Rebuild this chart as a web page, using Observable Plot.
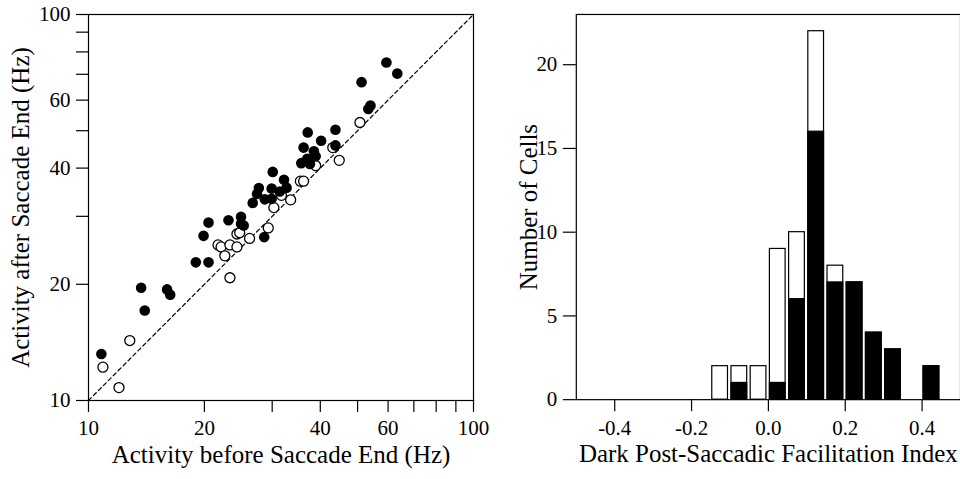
<!DOCTYPE html>
<html><head><meta charset="utf-8">
<script src="https://cdn.jsdelivr.net/npm/d3@7"></script>
<script src="https://cdn.jsdelivr.net/npm/@observablehq/plot@0.6"></script>
<style>
html,body{margin:0;padding:0;overflow:hidden;background:#fff;}
#wrap{position:relative;width:960px;height:479px;overflow:hidden;background:#fff;}
#left{position:absolute;left:0;top:0;z-index:2;}
#right{position:absolute;left:480px;top:0;z-index:1;}
</style></head>
<body><div id="wrap"><div id="left"></div><div id="right"></div></div>
<script>
// ---- Left panel: scatter (log-log) ----
const filledBefore = [59.4, 63.4, 51.2, 54.0, 53.3, 37.1, 43.8, 40.2, 43.8, 36.2, 38.5, 38.9, 37.0, 35.7, 37.6, 30.1, 32.2, 27.7, 29.9, 31.4, 32.7, 27.4, 28.7, 29.9, 26.7, 20.5, 19.9, 23.1, 24.9, 24.9, 25.3, 28.6, 19.0, 20.5, 13.7, 16.0, 16.3, 14.0, 10.8];
const filledAfter  = [75.1, 70.3, 66.8, 58.1, 56.9, 49.5, 50.3, 47.1, 45.8, 45.2, 44.2, 42.9, 42.3, 41.2, 41.0, 39.1, 37.3, 35.5, 35.4, 34.8, 35.6, 34.3, 33.2, 33.3, 32.5, 28.9, 26.7, 29.3, 29.9, 28.7, 28.4, 26.5, 22.8, 22.8, 19.6, 19.4, 18.8, 17.1, 13.2];
const openBefore = [50.7, 43.1, 44.8, 38.9, 35.5, 36.2, 33.5, 31.7, 30.3, 29.3, 26.2, 24.3, 24.7, 21.7, 22.1, 23.3, 24.3, 22.6, 23.3, 12.8, 10.9, 12.0];
const openAfter  = [52.5, 45.2, 41.9, 40.6, 37.0, 37.0, 33.1, 34.0, 31.6, 28.0, 26.3, 27.0, 27.2, 25.3, 25.0, 25.3, 25.0, 23.7, 20.8, 14.3, 12.2, 10.8];
const diagonal = [10, 100];
const logTicks = [10, 20, 30, 40, 50, 60, 70, 80, 90, 100];
const logTickLabels = ["10", "20", "", "40", "", "60", "", "", "", "100"];
const leftXTitle = "Activity before Saccade End (Hz)";
const leftYTitle = "Activity after Saccade End (Hz)";

// ---- Right panel: histogram ----
const binStart = [-0.15, -0.10, -0.05, 0.00, 0.05, 0.10, 0.15, 0.20, 0.25, 0.30, 0.40];
const binWidth = 0.05;
const filledCounts = [0, 1, 0, 1, 6, 16, 7, 7, 4, 3, 2];
const openCounts   = [2, 1, 2, 8, 4, 6, 1, 0, 0, 0, 0];
const histXTicks = [-0.4, -0.2, 0.0, 0.2, 0.4];
const histXTickLabels = ["-0.4", "-0.2", "0.0", "0.2", "0.4"];
const histYTicks = [0, 5, 10, 15, 20];
const rightXTitle = "Dark Post-Saccadic Facilitation Index";
const rightYTitle = "Number of Cells";

const FONT = "'Liberation Serif', 'Times New Roman', Times, serif";

const filled = filledBefore.map((b, i) => ({before: b, after: filledAfter[i]}));
const open = openBefore.map((b, i) => ({before: b, after: openAfter[i]}));
const logLabel = new Map(logTicks.map((t, i) => [t, logTickLabels[i]]));

const left = Plot.plot({
  width: 480, height: 479,
  marginLeft: 88, marginRight: 7, marginTop: 14, marginBottom: 79,
  style: {fontFamily: FONT, fontSize: "21px", color: "black", background: "transparent", overflow: "visible"},
  x: {type: "log", domain: [10, 100]},
  y: {type: "log", domain: [10, 100]},
  marks: [
    Plot.frame({stroke: "black", strokeWidth: 1.2}),
    Plot.axisX({ticks: logTicks, tickFormat: d => logLabel.get(d) ?? "", tickSize: 12, tickPadding: 8, fontSize: 21, label: null, strokeWidth: 1.2}),
    Plot.axisY({ticks: logTicks, tickFormat: d => logLabel.get(d) ?? "", tickSize: 12, tickPadding: 6, fontSize: 21, label: null, strokeWidth: 1.2}),
    Plot.line(diagonal, {x: d => d, y: d => d, stroke: "black", strokeWidth: 1.2, strokeDasharray: "4,3"}),
    Plot.dot(open, {x: "before", y: "after", r: 5, fill: "white", stroke: "black", strokeWidth: 1.3}),
    Plot.dot(filled, {x: "before", y: "after", r: 5.3, fill: "black", stroke: "none"}),
    Plot.text([leftYTitle], {text: d => d, frameAnchor: "left", textAnchor: "middle", rotate: -90, dx: -68, fontSize: 25, fill: "black"}),
    Plot.text([leftXTitle], {text: d => d, frameAnchor: "bottom", textAnchor: "middle", dy: 62, fontSize: 25, fill: "black"})
  ]
});
document.getElementById("left").appendChild(left);

const bins = binStart.map((s, i) => ({x1: s, x2: s + binWidth, filled: filledCounts[i], total: filledCounts[i] + openCounts[i]}));
const histLabel = new Map(histXTicks.map((t, i) => [t, histXTickLabels[i]]));

const right = Plot.plot({
  width: 481, height: 479,
  marginLeft: 96, marginRight: 0, marginTop: 14, marginBottom: 79,
  style: {fontFamily: FONT, fontSize: "21px", color: "black", background: "transparent", overflow: "visible"},
  x: {domain: [-0.5, 0.5]},
  y: {domain: [0, 23]},
  marks: [
    Plot.rect(bins, {x1: "x1", x2: "x2", y1: 0, y2: "total", fill: "white", stroke: "black", strokeWidth: 1.2, insetLeft: 1.5, insetRight: 2}),
    Plot.rect(bins.filter(d => d.filled > 0), {x1: "x1", x2: "x2", y1: 0, y2: "filled", fill: "black", stroke: "black", strokeWidth: 1.2, insetLeft: 1.5, insetRight: 2}),
    Plot.frame({stroke: "black", strokeWidth: 1.2}),
    Plot.axisX({ticks: histXTicks, tickFormat: d => histLabel.get(d) ?? "", tickSize: 12, tickPadding: 8, fontSize: 21, label: null, strokeWidth: 1.2}),
    Plot.axisY({ticks: histYTicks, tickFormat: d => String(d), tickSize: 13, tickPadding: 6, fontSize: 21, label: null, strokeWidth: 1.2}),
    Plot.text([rightYTitle], {text: d => d, frameAnchor: "left", textAnchor: "middle", rotate: -90, dx: -47, fontSize: 25, fill: "black"}),
    Plot.text([rightXTitle], {text: d => d, frameAnchor: "bottom", textAnchor: "middle", dy: 62, x: () => 0, fontSize: 25, fill: "black"})
  ]
});
document.getElementById("right").appendChild(right);
</script>
</body></html>
